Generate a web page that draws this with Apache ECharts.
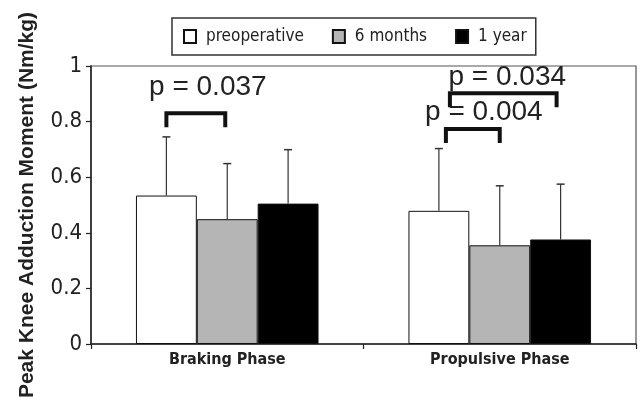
<!DOCTYPE html>
<html><head><meta charset="utf-8">
<script src="https://cdn.jsdelivr.net/npm/echarts@6/dist/echarts.min.js"></script>
<style>html,body{margin:0;padding:0;background:#fff}#c{width:640px;height:410px}</style>
</head><body><div id="c"></div>
<script>
const categories = ['Braking Phase', 'Propulsive Phase'];
const seriesNames = ['preoperative', '6 months', '1 year'];
const preoperative = [0.534, 0.479];
const sixMonths = [0.449, 0.355];
const oneYear = [0.505, 0.376];
const preoperativeSD = [0.211, 0.224];
const sixMonthsSD = [0.200, 0.214];
const oneYearSD = [0.194, 0.199];
const yTicks = [0, 0.2, 0.4, 0.6, 0.8, 1];
const pLabels = ['p = 0.037', 'p = 0.004', 'p = 0.034'];
const pCategory = [0, 1, 1];
const pFromBar = [0, 0, 0];
const pToBar = [1, 1, 2];
const pBracketLevel = [0.830, 0.773, 0.902];
const pLabelLevel = [0.923, 0.834, 0.959];

// styling / layout
const NARROW = "'Liberation Sans Narrow','Arial Narrow','DejaVu Sans Condensed',sans-serif";
const SANS = "'Liberation Sans',Arial,sans-serif";
const GAP = 0.33;
const bracketInset = [[0, -2], [7, 0], [11, -4]];
const labelShift = [12, 11, 4];
const fills = ['#ffffff', '#b5b5b5', '#000000'];
const values = [preoperative, sixMonths, oneYear];
const sds = [preoperativeSD, sixMonthsSD, oneYearSD];

function barCenterX(api, cat, bar) {
  const c = api.coord([cat, 0]);
  const band = api.size([1, 0])[0];
  const bw = band * (1 - GAP) / 3;
  return c[0] + (bar - 1) * bw;
}

const errData = [];
values.forEach((arr, b) => arr.forEach((v, c) => errData.push([c, v, b, sds[b][c]])));

const chart = echarts.init(document.getElementById('c'), null, {renderer: 'canvas'});
chart.setOption({
  animation: false,
  backgroundColor: '#fff',
  legend: {
    data: seriesNames,
    left: 172, top: 18,
    icon: 'rect', itemWidth: 12, itemHeight: 13, itemGap: 28,
    padding: [10, 9, 10, 11],
    backgroundColor: '#fff', borderColor: '#333', borderWidth: 1.5,
    textStyle: {fontFamily: NARROW, fontSize: 17, color: '#222', padding: [0, 0, 0, 5]}
  },
  grid: {left: 91, right: 4, top: 66, bottom: 66, show: true, borderColor: '#555', borderWidth: 1.2, backgroundColor: 'transparent'},
  xAxis: {
    type: 'category', data: categories,
    axisLine: {lineStyle: {color: '#222', width: 1.5}},
    axisTick: {show: true, length: 5, lineStyle: {color: '#222', width: 1.2}},
    axisLabel: {fontFamily: NARROW, fontWeight: 'bold', fontSize: 16, color: '#222', margin: 8}
  },
  yAxis: {
    type: 'value', min: 0, max: 1, interval: 0.2,
    name: 'Peak Knee Adduction Moment (Nm/kg)', nameLocation: 'middle', nameGap: 53,
    nameTextStyle: {fontFamily: SANS, fontWeight: 'bold', fontSize: 21, color: '#222'},
    axisLine: {show: true, lineStyle: {color: '#222', width: 1.5}},
    axisTick: {show: true, length: 5, lineStyle: {color: '#222', width: 1.2}},
    splitLine: {show: false},
    axisLabel: {fontFamily: NARROW, fontSize: 22, color: '#222', margin: 9,
      formatter: v => { const t = yTicks.find(k => Math.abs(k - v) < 1e-9); return String(t !== undefined ? t : v); }}
  },
  series: [
    ...seriesNames.map((n, i) => ({
      name: n, type: 'bar', data: values[i], barGap: '0%', barCategoryGap: (GAP * 100) + '%',
      itemStyle: {color: fills[i], borderColor: '#111', borderWidth: 1}
    })),
    {
      type: 'custom', name: 'err', data: errData, encode: {x: 0, y: 1}, z: 5, clip: false,
      renderItem: (params, api) => {
        const cat = api.value(0), v = api.value(1), b = api.value(2), sd = api.value(3);
        const x = barCenterX(api, cat, b);
        const y0 = api.coord([cat, v])[1];
        const y1 = api.coord([cat, v + sd])[1];
        return {type: 'group', children: [
          {type: 'line', shape: {x1: x, y1: y0, x2: x, y2: y1}, style: {stroke: '#333', lineWidth: 1.2}},
          {type: 'line', shape: {x1: x - 4, y1: y1, x2: x + 4, y2: y1}, style: {stroke: '#333', lineWidth: 1.5}}
        ]};
      }
    },
    {
      type: 'custom', name: 'sig', data: pLabels.map((t, i) => [pCategory[i], pBracketLevel[i]]),
      encode: {x: 0, y: 1}, z: 6, clip: false,
      renderItem: (params, api) => {
        const i = params.dataIndex;
        const cat = pCategory[i];
        const x1 = barCenterX(api, cat, pFromBar[i]) + bracketInset[i][0];
        const x2 = barCenterX(api, cat, pToBar[i]) + bracketInset[i][1];
        const yTop = api.coord([cat, pBracketLevel[i]])[1];
        const yLab = api.coord([cat, pLabelLevel[i]])[1];
        const leg = 14;
        return {type: 'group', children: [
          {type: 'polyline', shape: {points: [[x1, yTop + leg], [x1, yTop], [x2, yTop], [x2, yTop + leg]]},
           style: {stroke: '#111', lineWidth: 4, fill: null, lineJoin: 'miter'}},
          {type: 'text', x: (x1 + x2) / 2 + labelShift[i], y: yLab,
           style: {text: pLabels[i], fontFamily: SANS, fontSize: 28, fill: '#222', align: 'center', verticalAlign: 'middle'}}
        ]};
      }
    }
  ]
});
</script></body></html>
